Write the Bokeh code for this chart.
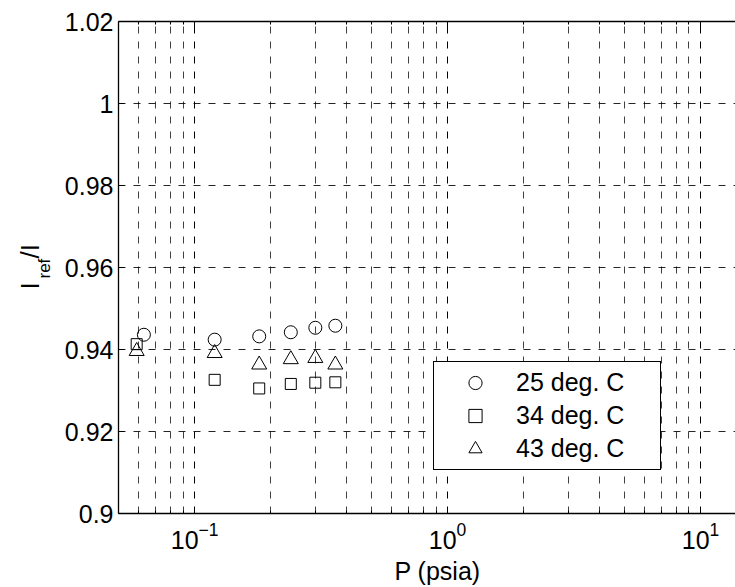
import math
from bokeh.plotting import figure
from bokeh.models import (LogAxis, FixedTicker, BasicTickFormatter,
                          LogTickFormatter, Label, Range1d)
from bokeh.embed import file_html
from bokeh.resources import INLINE

# ---- data ----
pressure_25 = [0.063, 0.12, 0.18, 0.24, 0.30, 0.36]
ratio_25 = [0.9436, 0.9424, 0.9432, 0.9442, 0.9453, 0.9458]

pressure_34 = [0.059, 0.12, 0.18, 0.24, 0.30, 0.36]
ratio_34 = [0.9413, 0.9326, 0.9305, 0.9316, 0.9319, 0.9320]

pressure_43 = [0.059, 0.12, 0.18, 0.24, 0.30, 0.36]
ratio_43 = [0.9396, 0.9391, 0.9363, 0.9376, 0.9379, 0.9363]

series_labels = ["25 deg. C", "34 deg. C", "43 deg. C"]

x_major = [0.1, 1, 10]
x_minor = [0.05, 0.06, 0.07, 0.08, 0.09,
           0.2, 0.3, 0.4, 0.5, 0.6, 0.7, 0.8, 0.9,
           2, 3, 4, 5, 6, 7, 8, 9]
y_ticks = [0.9, 0.92, 0.94, 0.96, 0.98, 1.0, 1.02]
y_tick_labels = ["0.9", "0.92", "0.94", "0.96", "0.98", "1", "1.02"]

X_START, X_END = 0.05, 13.75
Y_START, Y_END = 0.9, 1.02

FONT = "Liberation Sans"
TICK_PX = "25px"
YLAB_PX = "26px"
SUB_PX = "17px"

p = figure(width=735, height=587, x_axis_type="log",
           x_range=Range1d(X_START, X_END), y_range=Range1d(Y_START, Y_END),
           output_backend="svg", toolbar_location=None,
           min_border_left=118, min_border_right=0,
           min_border_top=21, min_border_bottom=74)
p.outline_line_color = None
p.background_fill_color = "white"
p.border_fill_color = "white"

xticker = FixedTicker(ticks=x_major, minor_ticks=x_minor)
yticker = FixedTicker(ticks=y_ticks)
blank_x = {t: "" for t in x_major}

# bottom axis
xa = p.xaxis[0]
xa.ticker = xticker
xa.formatter = LogTickFormatter()
xa.major_label_text_font = FONT
xa.major_label_text_font_size = TICK_PX
xa.major_label_text_color = "black"
xa.major_label_standoff = 8
xa.axis_line_color = "black"
xa.axis_line_width = 1.3
xa.major_tick_in = 6
xa.major_tick_out = 0
xa.minor_tick_in = 3
xa.minor_tick_out = 0
xa.major_tick_line_color = "black"
xa.minor_tick_line_color = "black"

# top border axis
top = LogAxis(ticker=xticker, formatter=BasicTickFormatter(),
              major_label_overrides=blank_x,
              major_label_text_font_size="1px",
              major_label_standoff=0, axis_line_color="black",
              axis_line_width=1.3, major_tick_in=6, major_tick_out=0,
              minor_tick_in=3, minor_tick_out=0,
              major_tick_line_color="black", minor_tick_line_color="black")
p.add_layout(top, "above")

# left axis
ya = p.yaxis[0]
ya.ticker = yticker
ya.major_label_overrides = dict(zip(y_ticks, y_tick_labels))
ya.major_label_text_font = FONT
ya.major_label_text_font_size = TICK_PX
ya.major_label_text_color = "black"
ya.major_label_standoff = 5
ya.axis_line_color = "black"
ya.axis_line_width = 1.3
ya.major_tick_in = 6
ya.major_tick_out = 0
ya.minor_tick_line_color = None
ya.major_tick_line_color = "black"

# grids
p.xgrid.ticker = xticker
p.xgrid.grid_line_color = "black"
p.xgrid.grid_line_alpha = 1.0
p.xgrid.grid_line_dash = "7 8"
p.xgrid.grid_line_width = 1
p.xgrid.minor_grid_line_color = "black"
p.xgrid.minor_grid_line_alpha = 0.75
p.xgrid.minor_grid_line_dash = "7 8"
p.xgrid.minor_grid_line_width = 1

p.ygrid.ticker = yticker
p.ygrid.grid_line_color = "black"
p.ygrid.grid_line_alpha = 0.85
p.ygrid.grid_line_dash = "7 8"
p.ygrid.grid_line_width = 1

# data
p.scatter(pressure_25, ratio_25, marker="circle", size=13,
          fill_color=None, line_color="black", line_width=1,
          legend_label=series_labels[0])
p.scatter(pressure_34, ratio_34, marker="square", size=11,
          fill_color=None, line_color="black", line_width=1,
          legend_label=series_labels[1])
p.scatter(pressure_43, ratio_43, marker="triangle", size=15,
          fill_color=None, line_color="black", line_width=1,
          legend_label=series_labels[2])

lg = p.legend[0]
lg.location = (315, 43)
lg.border_line_color = "black"
lg.border_line_width = 1
lg.border_line_alpha = 1
lg.background_fill_color = "white"
lg.background_fill_alpha = 1
lg.label_text_font = FONT
lg.label_text_font_size = TICK_PX
lg.label_text_color = "black"
lg.glyph_width = 74
lg.glyph_height = 33
lg.label_height = 33
lg.label_width = 140
lg.label_standoff = 4
lg.padding = 4
lg.spacing = 0
lg.margin = 0

# ---- axis titles (anchored at the frame's lower-left corner, offsets in px)
# x title
p.add_layout(Label(x=X_START, y=Y_START, x_offset=319, y_offset=-57,
                   text="P (psia)", text_font=FONT, text_font_size=TICK_PX,
                   text_align="center", text_baseline="middle",
                   text_color="black"), "below")

# y title "I_ref/I": base text + lowered "ref"
ang = math.pi / 2
p.add_layout(Label(x=X_START, y=Y_START, x_offset=-74, y_offset=235,
                   text="ref", angle=ang, text_font=FONT,
                   text_font_size=SUB_PX, text_align="left",
                   text_baseline="alphabetic", text_color="black"), "left")
p.add_layout(Label(x=X_START, y=Y_START, x_offset=-89, y_offset=255,
                   text="/I", angle=ang, text_font=FONT,
                   text_font_size=YLAB_PX, text_align="left",
                   text_baseline="alphabetic", text_color="black"), "left")
p.add_layout(Label(x=X_START, y=Y_START, x_offset=-89, y_offset=224,
                   text="I", angle=ang, text_font=FONT,
                   text_font_size=YLAB_PX, text_align="left",
                   text_baseline="alphabetic", text_color="black"), "above")

open("out.html", "w").write(file_html(p, INLINE))
